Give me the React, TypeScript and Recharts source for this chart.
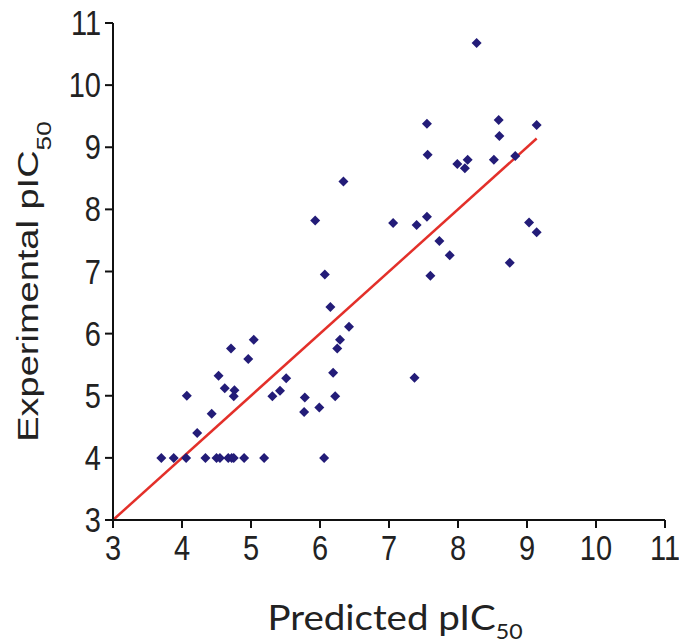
import { ScatterChart, Scatter, XAxis, YAxis, ReferenceLine } from 'recharts';

const predicted = [
  3.7, 3.88, 4.06, 4.07, 4.22, 4.34, 4.43, 4.5, 4.55, 4.53,
  4.62, 4.67, 4.72, 4.75, 4.71, 4.76, 4.75, 4.9, 4.96, 5.04,
  5.19, 5.31, 5.42, 5.51, 5.78, 5.77, 5.99, 6.06, 6.07, 6.15,
  6.19, 6.22, 6.25, 6.29, 6.42, 6.34, 5.93, 7.06, 7.4, 7.55,
  7.73, 7.88, 7.6, 7.37, 8.75, 9.03, 9.14, 7.55, 7.56, 7.99,
  8.1, 8.14, 8.52, 8.83, 8.27, 8.59, 8.6, 9.14,
];
const experimental = [
  4.0, 4.0, 4.0, 5.0, 4.4, 4.0, 4.71, 4.0, 4.0, 5.32,
  5.12, 4.0, 4.0, 4.0, 5.76, 5.09, 4.99, 4.0, 5.59, 5.9,
  4.0, 4.99, 5.08, 5.28, 4.97, 4.74, 4.81, 4.0, 6.95, 6.43,
  5.37, 4.99, 5.76, 5.9, 6.11, 8.45, 7.82, 7.78, 7.75, 7.88,
  7.49, 7.26, 6.93, 5.29, 7.14, 7.79, 7.63, 9.38, 8.88, 8.73,
  8.66, 8.8, 8.8, 8.86, 10.68, 9.44, 9.18, 9.36,
];
const ticks = [3, 4, 5, 6, 7, 8, 9, 10, 11];
const fitStart = 3;
const fitEnd = 9.14;

const points = predicted.map((x, i) => ({ x, y: experimental[i] }));

const Diamond = (props: any) => {
  const { cx, cy } = props;
  if (cx == null || cy == null) return null;
  const r = 5;
  return (
    <polygon
      points={`${cx},${cy - r} ${cx + r},${cy} ${cx},${cy + r} ${cx - r},${cy}`}
      fill="#231c78"
    />
  );
};

const tickFont = "'Liberation Sans', Arial, sans-serif";

const XTick = ({ x, y, payload }: any) => (
  <g transform={`translate(${x},${y + 30}) scale(1,1.2)`}>
    <text x={0} y={0} textAnchor="middle" fontSize={29} fontFamily={tickFont} fill="#222">
      {payload.value}
    </text>
  </g>
);

const YTick = ({ x, y, payload }: any) => (
  <g transform={`translate(${x - 2},${y + 12}) scale(1,1.2)`}>
    <text x={0} y={0} textAnchor="end" fontSize={29} fontFamily={tickFont} fill="#222">
      {payload.value}
    </text>
  </g>
);

const XTitle = ({ viewBox }: any) => {
  const cx = viewBox.x + viewBox.width / 2 + 6;
  return (
    <g transform={`translate(${cx},${viewBox.y + 110}) scale(1.1,1)`}>
      <text x={0} y={0} textAnchor="middle" fontSize={35} fontFamily="Lato, sans-serif" fill="#222">
        Predicted pIC
        <tspan fontSize={21} dy={9}>50</tspan>
      </text>
    </g>
  );
};

const YTitle = ({ viewBox }: any) => {
  const cy = viewBox.y + viewBox.height / 2 + 10;
  return (
    <g transform={`translate(${viewBox.x + 25},${cy}) rotate(-90) scale(1.31,1)`}>
      <text x={0} y={0} textAnchor="middle" fontSize={29} fontFamily={tickFont} fill="#222">
        Experimental pIC
        <tspan fontSize={20} dy={13}>50</tspan>
      </text>
    </g>
  );
};

export default function App() {
  return (
    <div style={{ position: 'absolute', left: 0, top: 0, background: '#fff' }}>
      <ScatterChart width={679} height={643} margin={{ top: 23, right: 14, bottom: 63, left: 13 }}>
        <XAxis
          type="number"
          dataKey="x"
          domain={[3, 11]}
          ticks={ticks}
          interval={0}
          height={60}
          tickSize={8}
          tick={<XTick />}
          axisLine={{ stroke: '#111', strokeWidth: 2 }}
          tickLine={{ stroke: '#111', strokeWidth: 2 }}
          label={<XTitle />}
        />
        <YAxis
          type="number"
          dataKey="y"
          domain={[3, 11]}
          ticks={ticks}
          interval={0}
          width={100}
          tickSize={8}
          tick={<YTick />}
          axisLine={{ stroke: '#111', strokeWidth: 2 }}
          tickLine={{ stroke: '#111', strokeWidth: 2 }}
          label={<YTitle />}
        />
        <ReferenceLine
          segment={[{ x: fitStart, y: fitStart }, { x: fitEnd, y: fitEnd }]}
          stroke="#e3302a"
          strokeWidth={2.5}
          ifOverflow="visible"
        />
        <Scatter data={points} shape={<Diamond />} isAnimationActive={false} />
      </ScatterChart>
    </div>
  );
}
